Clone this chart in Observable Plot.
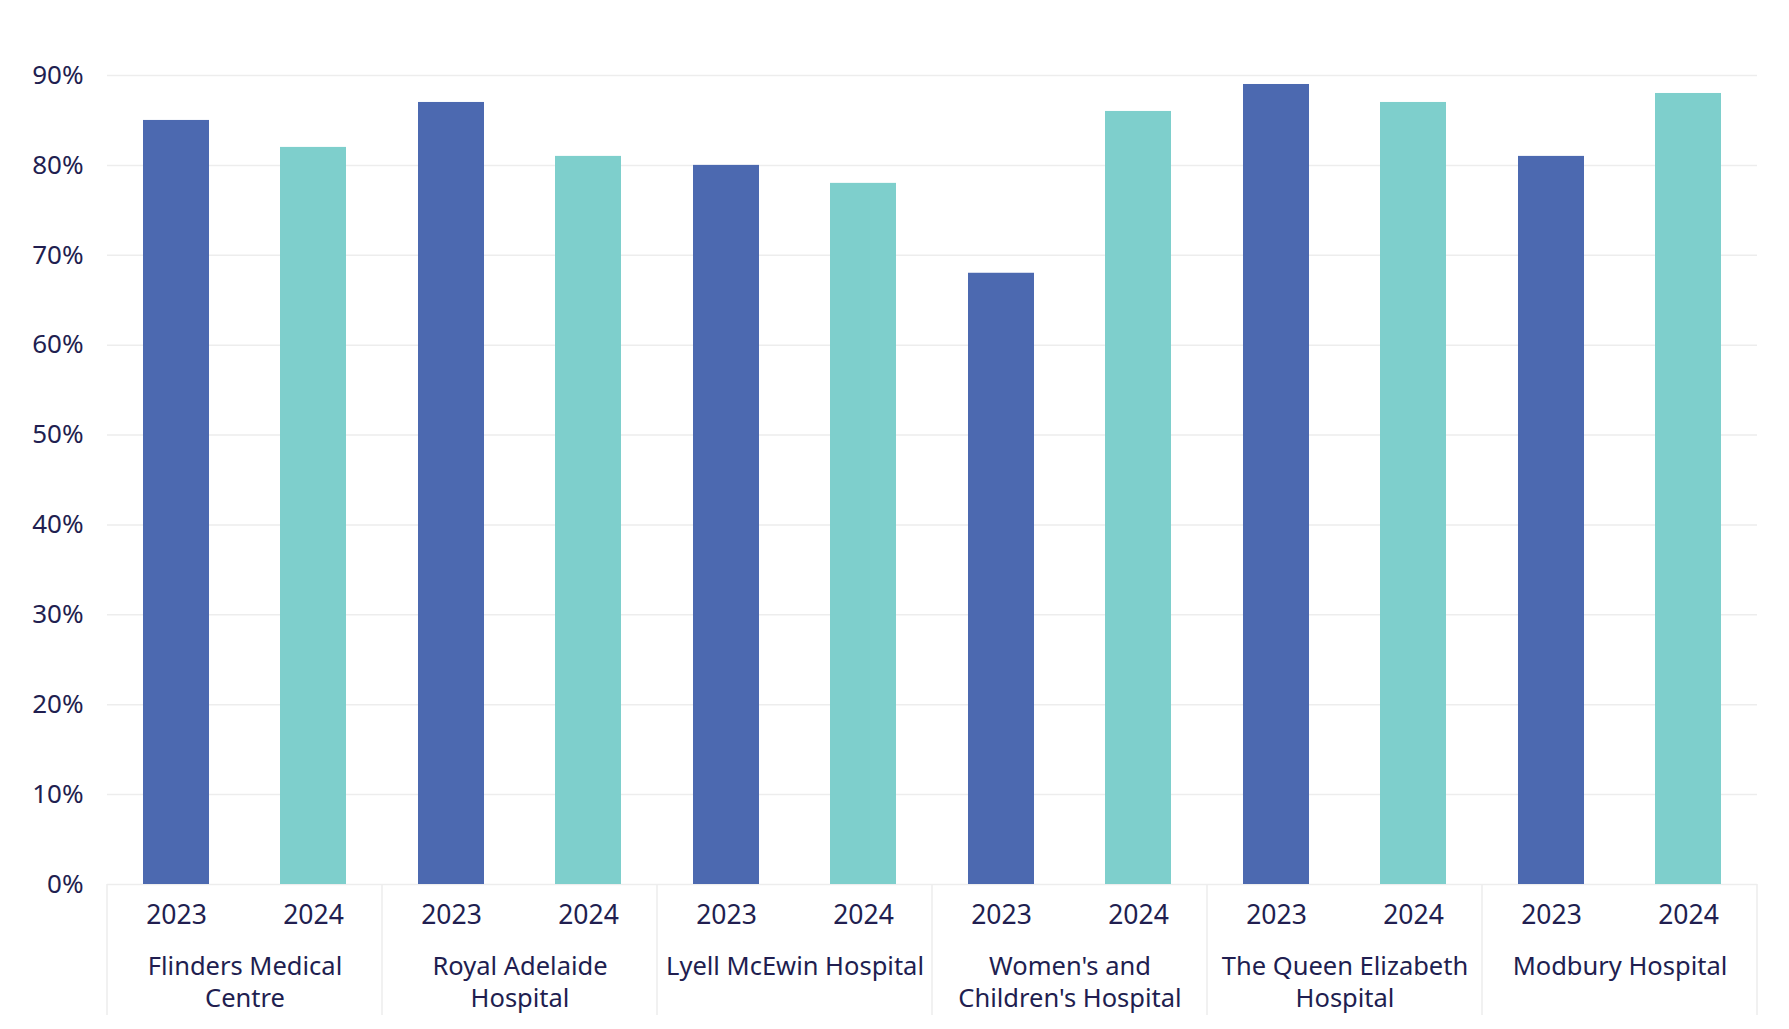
<!DOCTYPE html>
<html><head><meta charset="utf-8">
<script src="https://cdn.jsdelivr.net/npm/d3@7"></script>
<script src="https://cdn.jsdelivr.net/npm/@observablehq/plot@0.6"></script>
<style>body{margin:0;background:#fff;}</style>
</head><body><div id="chart"></div>
<script>
const hospitals = ["Flinders Medical Centre", "Royal Adelaide Hospital", "Lyell McEwin Hospital", "Women's and Children's Hospital", "The Queen Elizabeth Hospital", "Modbury Hospital"];
const hospitalLabels = ["Flinders Medical\nCentre", "Royal Adelaide\nHospital", "Lyell McEwin Hospital", "Women's and\nChildren's Hospital", "The Queen Elizabeth\nHospital", "Modbury Hospital"];
const years = ["2023", "2024"];
const values2023 = [85, 87, 80, 68, 89, 81];
const values2024 = [82, 81, 78, 86, 87, 88];
const yTicks = [0, 10, 20, 30, 40, 50, 60, 70, 80, 90];

const textColor = "#211e50";
const colors = ["#4c69b0", "#7ecfcc"];
const gridColor = "#ededed";

const data = hospitals.flatMap((h, i) => [
  {hospital: h, year: years[0], value: values2023[i]},
  {hospital: h, year: years[1], value: values2024[i]}
]);
const labelOf = new Map(hospitals.map((h, i) => [h, hospitalLabels[i]]));

const plot = Plot.plot({
  width: 1789, height: 1029,
  marginLeft: 106, marginRight: 32, marginTop: 75, marginBottom: 145,
  style: {fontFamily: "'Noto Sans', sans-serif", fontSize: "25px", color: textColor, background: "#fff"},
  fx: {domain: hospitals, padding: 0, axis: null},
  x: {domain: years, paddingInner: 0.52, paddingOuter: 0.26, axis: null},
  y: {domain: [0, 90], axis: null},
  color: {domain: years, range: colors},
  marks: [
    Plot.gridY(yTicks, {stroke: gridColor, strokeOpacity: 1, strokeWidth: 1.5}),
    Plot.axisY(yTicks, {tickSize: 0, tickPadding: 24, tickFormat: d => d + "%", fontSize: 26, fill: textColor, label: null}),
    Plot.barY(data, {fx: "hospital", x: "year", y: "value", fill: "year"}),
    Plot.axisX({anchor: "bottom", tickSize: 0, tickPadding: 21, fontSize: 26.5, fill: textColor, label: null}),
    Plot.axisFx({anchor: "bottom", tickSize: 0, tickPadding: 68, tickFormat: h => labelOf.get(h), lineHeight: 1.25, fontSize: 25.5, fill: textColor, label: null})
  ]
});

// category box separators, positioned with Plot's own fx / y scales
const fx = plot.scale("fx");
const y = plot.scale("y");
const bounds = hospitals.map(h => fx.apply(h)).concat([fx.apply(hospitals[hospitals.length - 1]) + fx.bandwidth]);
d3.select(plot).append("g")
  .attr("stroke", gridColor).attr("stroke-width", 1.5)
  .selectAll("line").data(bounds).join("line")
  .attr("x1", d => d).attr("x2", d => d)
  .attr("y1", y.apply(0)).attr("y2", 1015);

document.getElementById("chart").appendChild(plot);
</script>
</body></html>
